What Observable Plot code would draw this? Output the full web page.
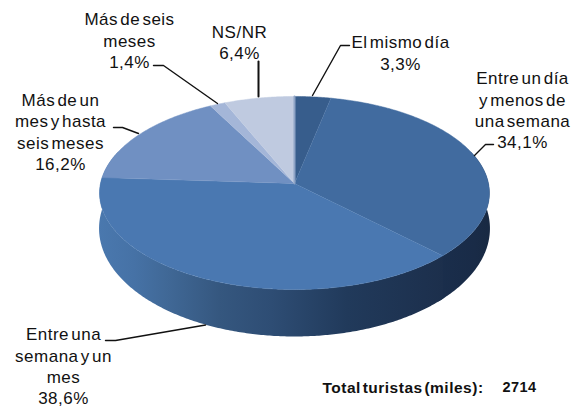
<!DOCTYPE html>
<html lang="es">
<head>
<meta charset="utf-8">
<script src="https://cdn.jsdelivr.net/npm/d3@7"></script>
<script src="https://cdn.jsdelivr.net/npm/@observablehq/plot@0.6"></script>
<style>html,body{margin:0;padding:0;background:#fff}svg{display:block}</style>
</head>
<body>
<div id="chart"></div>
<script>
// Data
const categories = ["El mismo día", "Entre un día y menos de una semana", "Entre una semana y un mes", "Más de un mes y hasta seis meses", "Más de seis meses", "NS/NR"];
const shares = [3.3, 34.1, 38.6, 16.2, 1.4, 6.4];
const labelLines = [
  ["El mismo día"],
  ["Entre un día", "y menos de", "una semana"],
  ["Entre una", "semana y un", "mes"],
  ["Más de un", "mes y hasta", "seis meses"],
  ["Más de seis", "meses"],
  ["NS/NR"]
];
const totalLabel = "Total turistas (miles):";
const totalValue = 2714;

// Styles and layout
const topColors = ["#375d8c", "#416b9f", "#4a78b1", "#7090c2", "#a4b6d8", "#bfcae0"];
const labelCenters = [[400, 51.5], [522, 109], [63, 365], [60, 130.5], [129, 39.5], [239, 41]];
const leaders = [
  [[349, 45], [340, 45], [312, 95]],
  [[493, 144], [485, 144], [474, 155]],
  [[105, 340], [115, 340], [205, 324.5]],
  [[113, 127], [122, 127], [138, 133]],
  [[153, 65], [163, 65], [217, 103]],
  [[258, 61], [258, 96]]
];
const topDisc = {cx: 294, cy: 183, rx: 194, ry: 95.6};
const bottomDisc = {cx: 294, cy: 217.3, rx: 194.5, ry: 107};
const tilt = 0.0984;

// Perspective projection of a point on a disc rim, angle clockwise from the top
function rim(disc, angle) {
  const u = Math.sin(angle), v = -Math.cos(angle), d = 1 - tilt * v;
  return [disc.cx + disc.rx * u / d, disc.cy + disc.ry * v / d];
}
function arc(disc, a0, a1) {
  const n = Math.max(2, Math.ceil(Math.abs(a1 - a0) / 0.01));
  return d3.range(n + 1).map(i => rim(disc, a0 + (a1 - a0) * i / n));
}
const arcs = d3.pie().sort(null).value(d => d)(shares);
const slices = arcs.map((a, i) => ({points: [[topDisc.cx, topDisc.cy], ...arc(topDisc, a.startAngle, a.endAngle)], color: topColors[i]}));
const wall = (a0, a1) => [...arc(topDisc, a0, a1), ...arc(bottomDisc, a1, a0)];
const rad = Math.PI / 180;
const wallRight = wall(70 * rad, arcs[1].endAngle + 2 * rad);
const wallFront = wall(arcs[2].startAngle, 290 * rad);

const px = {x: d => d[0], y: d => d[1]};
const gradient = (id, stops) => () => {
  const defs = d3.create("svg:defs");
  const g = defs.append("linearGradient").attr("id", id);
  stops.forEach(([o, c]) => g.append("stop").attr("offset", o).attr("stop-color", c));
  return defs.node();
};
const font = {fontFamily: "'Liberation Sans', Arial, sans-serif", fill: "#111"};
const fmt = v => String(v).replace(".", ",") + "%";

const plot = Plot.plot({
  width: 579, height: 407,
  margin: 0,
  x: {domain: [0, 579], range: [0, 579], axis: null},
  y: {domain: [0, 407], range: [0, 407], axis: null},
  style: {background: "#fff", wordSpacing: "-3px", letterSpacing: "0.5px"},
  marks: [
    gradient("wallFront", [[0, "#4a78ae"], [0.1, "#4672a6"], [0.2, "#406896"], [0.35, "#35577f"], [0.5, "#2e4d74"], [0.72, "#213a5b"], [1, "#1c2f4c"]]),
    gradient("wallRight", [[0, "#1a2e4c"], [0.7, "#192b47"], [1, "#182942"]]),
    Plot.line(wallRight, {...px, fill: "url(#wallRight)", stroke: "none"}),
    Plot.line(wallFront, {...px, fill: "url(#wallFront)", stroke: "none"}),
    ...slices.map(s => Plot.line(s.points, {...px, fill: s.color, stroke: s.color, strokeWidth: 0.5})),
    Plot.line([[topDisc.cx, topDisc.cy], rim(topDisc, 0)], {...px, stroke: "#8ea3c6", strokeWidth: 2}),
    ...leaders.map((l, i) => Plot.line(l, {...px, stroke: "#111", strokeWidth: i === 5 ? 2 : 1.4})),
    Plot.text(categories.map((c, i) => i), {
      x: i => labelCenters[i][0],
      y: i => labelCenters[i][1],
      text: i => [...labelLines[i], fmt(shares[i])].join("\n"),
      textAnchor: "middle",
      lineAnchor: "middle",
      lineHeight: 1.26,
      fontSize: 17,
      ...font
    }),
    Plot.text([totalLabel], {x: 402.5, y: 388, text: d => d, textAnchor: "middle", fontSize: 15.5, fontWeight: "bold", ...font}),
    Plot.text([totalValue], {x: 519, y: 387, text: d => String(d), textAnchor: "middle", fontSize: 14.5, fontWeight: "bold", ...font})
  ]
});
document.getElementById("chart").append(plot);
</script>
</body>
</html>
